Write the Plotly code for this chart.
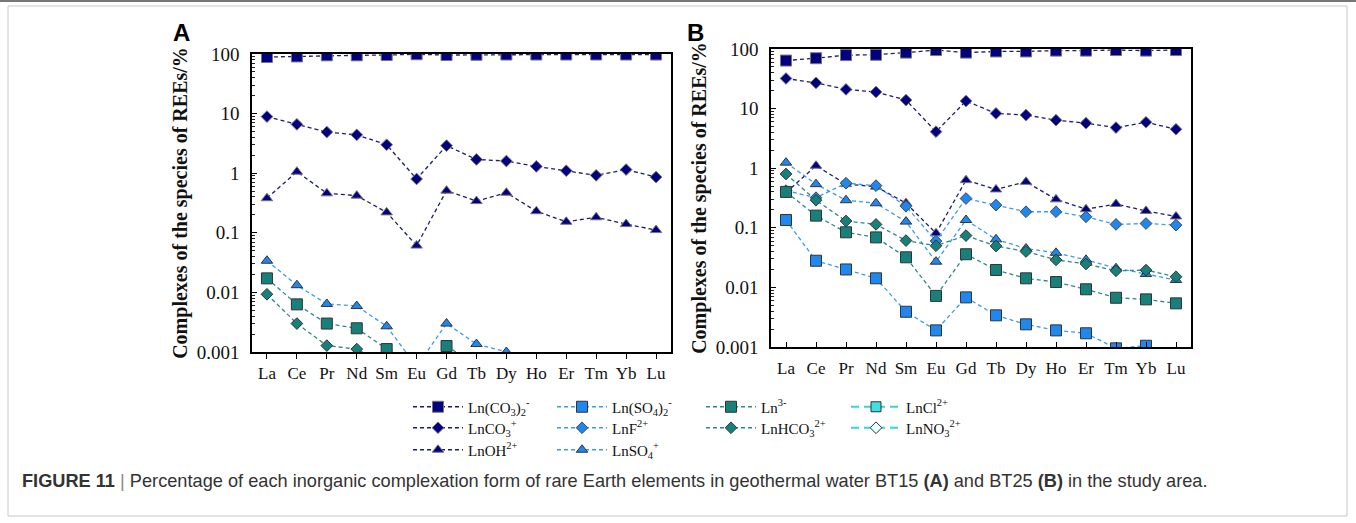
import plotly.graph_objects as go

W, H = 1356, 523

elements = ["La", "Ce", "Pr", "Nd", "Sm", "Eu", "Gd", "Tb", "Dy", "Ho", "Er", "Tm", "Yb", "Lu"]
y_tickvals = [0.001, 0.01, 0.1, 1, 10, 100]
y_ticktext = ["0.001", "0.01", "0.1", "1", "10", "100"]

# ---------------- Panel A : BT15 (percent) ----------------
a_ln_co3_2 = [89, 91, 95, 95, 96, 99, 96, 97, 98, 98, 98, 98, 98, 98]
a_ln_co3 = [8.9, 6.6, 4.9, 4.4, 3.0, 0.80, 2.9, 1.7, 1.6, 1.3, 1.1, 0.92, 1.15, 0.86]
a_ln_oh = [0.38, 1.06, 0.46, 0.42, 0.22, 0.061, 0.51, 0.34, 0.47, 0.23, 0.153, 0.182, 0.14, 0.111]
a_ln_so4_2 = [None] * 14
a_ln_f = [None] * 14
a_ln_so4 = [0.034, 0.0132, 0.0064, 0.0059, 0.0027, 0.00057, 0.0030, 0.00136, 0.0010, 0.0007, 0.0005, 0.0005, 0.0005, 0.0004]
a_ln3 = [0.0172, 0.0063, 0.0030, 0.0025, 0.00112, 0.0002, 0.00126, 0.0006, None, None, None, None, None, None]
a_ln_hco3 = [0.0093, 0.0030, 0.00128, 0.00112, 0.0006, None, None, None, None, None, None, None, None, None]
a_ln_cl = [None] * 14
a_ln_no3 = [None] * 14

# ---------------- Panel B : BT25 (percent) ----------------
b_ln_co3_2 = [64, 70, 79, 80, 87, 96, 87, 91, 91, 94, 94, 96, 94, 96]
b_ln_co3 = [32, 27, 21, 19, 13.9, 4.1, 13.4, 8.3, 7.8, 6.4, 5.7, 4.8, 5.9, 4.5]
b_ln_oh = [0.39, 1.1, 0.54, 0.49, 0.26, 0.081, 0.63, 0.44, 0.59, 0.30, 0.205, 0.251, 0.192, 0.155]
b_ln_so4_2 = [0.135, 0.028, 0.020, 0.0142, 0.0039, 0.0019, 0.0068, 0.0034, 0.0024, 0.0019, 0.0017, 0.00095, 0.00105, 0.0005]
b_ln_f = [0.42, 0.32, 0.56, 0.51, 0.23, 0.06, 0.31, 0.24, 0.186, 0.186, 0.153, 0.114, 0.118, 0.111]
b_ln_so4 = [1.24, 0.54, 0.29, 0.258, 0.127, 0.027, 0.135, 0.064, 0.045, 0.038, 0.029, 0.021, 0.0168, 0.0133]
b_ln3 = [0.40, 0.16, 0.084, 0.069, 0.032, 0.0072, 0.036, 0.0196, 0.0142, 0.0123, 0.0093, 0.0067, 0.0063, 0.0054]
b_ln_hco3 = [0.80, 0.29, 0.13, 0.114, 0.061, 0.050, 0.074, 0.0495, 0.040, 0.029, 0.0247, 0.019, 0.0195, 0.0151]
b_ln_cl = [None] * 14
b_ln_no3 = [None] * 14

NAVY_F, NAVY_L = "#000080", "#1c1c72"
BLUE_F, BLUE_L = "#1e88f0", "#3a9af5"
TEAL_F, TEAL_L = "#16807a", "#2a8a86"
CYAN_F, CYAN_L = "#3fe0e0", "#33d6d6"

series = [
    # name, A data, B data, symbol, fill, line color, outline, legend id, dash, line width, marker size
    ("Ln(CO<sub>3</sub>)<sub>2</sub><sup>-</sup>", a_ln_co3_2, b_ln_co3_2, "square", NAVY_F, NAVY_L, "#777", "legend", "4px,3px", 1.3, 11),
    ("LnCO<sub>3</sub><sup>+</sup>", a_ln_co3, b_ln_co3, "diamond", NAVY_F, NAVY_L, "#777", "legend2", "4px,3px", 1.3, 9),
    ("LnOH<sup>2+</sup>", a_ln_oh, b_ln_oh, "triangle-up", NAVY_F, NAVY_L, "#777", "legend3", "4px,3px", 1.3, 10),
    ("Ln(SO<sub>4</sub>)<sub>2</sub><sup>-</sup>", a_ln_so4_2, b_ln_so4_2, "square", BLUE_F, BLUE_L, "#333", "legend4", "4px,3px", 1.3, 11),
    ("LnF<sup>2+</sup>", a_ln_f, b_ln_f, "diamond", BLUE_F, BLUE_L, "#444", "legend5", "4px,3px", 1.3, 9),
    ("LnSO<sub>4</sub><sup>+</sup>", a_ln_so4, b_ln_so4, "triangle-up", BLUE_F, BLUE_L, "#333", "legend6", "4px,3px", 1.3, 10),
    ("Ln<sup>3-</sup>", a_ln3, b_ln3, "square", TEAL_F, TEAL_L, "#333", "legend7", "4px,3px", 1.3, 11),
    ("LnHCO<sub>3</sub><sup>2+</sup>", a_ln_hco3, b_ln_hco3, "diamond", TEAL_F, TEAL_L, "#333", "legend8", "4px,3px", 1.3, 9),
    ("LnCl<sup>2+</sup>", a_ln_cl, b_ln_cl, "square", CYAN_F, CYAN_L, "#333", "legend9", "8px,5px", 2.2, 10),
    ("LnNO<sub>3</sub><sup>2+</sup>", a_ln_no3, b_ln_no3, "diamond", "#e6ffff", CYAN_L, "#333", "legend10", "8px,5px", 2.2, 9),
]

fig = go.Figure()
for name, ya, yb, sym, fill, lc, oc, lg, dash, lw, ms in series:
    for panel, ys, xa, yax in (("A", ya, "x", "y"), ("B", yb, "x2", "y2")):
        fig.add_trace(go.Scatter(
            x=elements, y=ys, xaxis=xa, yaxis=yax, name=name,
            mode="lines+markers",
            line=dict(color=lc, width=lw, dash=dash),
            marker=dict(symbol=sym, size=ms, color=fill, line=dict(color=oc, width=1)),
            legend=lg, showlegend=(panel == "A"),
            connectgaps=False,
        ))

# legend positions (px): columns / rows
col_x = [408, 552, 701, 846]
row_y = [407, 428, 450]
legend_pos = {
    "legend": (0, 0), "legend2": (0, 1), "legend3": (0, 2),
    "legend4": (1, 0), "legend5": (1, 1), "legend6": (1, 2),
    "legend7": (2, 0), "legend8": (2, 1),
    "legend9": (3, 0), "legend10": (3, 1),
}
legend_layout = {}
for lg, (c, r) in legend_pos.items():
    legend_layout[lg] = dict(
        x=col_x[c] / W, y=1 - row_y[r] / H, xanchor="left", yanchor="middle",
        xref="paper", yref="paper",
        bgcolor="rgba(0,0,0,0)", borderwidth=0, itemwidth=50,
        font=dict(family="Liberation Serif", size=15, color="#111"),
        tracegroupgap=0,
    )

serif = "Liberation Serif"

def yaxis_common(domain):
    return dict(
        type="log", range=[-3, 2], domain=domain,
        tickmode="array", tickvals=y_tickvals, ticktext=y_ticktext,
        ticks="inside", ticklen=5, tickcolor="black",
        minor=dict(ticks="inside", ticklen=3, dtick="D1", tickcolor="#222", showgrid=False),
        showline=True, linecolor="black", linewidth=1.5, mirror=True,
        showgrid=False, zeroline=False, automargin=False,
        tickfont=dict(family=serif, size=19, color="#111"),
        ticklabelstandoff=7,
        title=dict(text="Complexes of the species of REEs/%",
                   font=dict(family=serif, size=20, color="#111", weight="bold"),
                   standoff=4),
    )

def xaxis_common(domain, anchor, ticks, standoff):
    return dict(
        type="category", categoryorder="array", categoryarray=elements,
        range=[-0.5, 13.5], domain=domain, anchor=anchor,
        showline=True, linecolor="black", linewidth=1.5, mirror=True,
        ticks=ticks, ticklen=5, tickcolor="black",
        showgrid=False, zeroline=False, automargin=False,
        tickfont=dict(family=serif, size=17, color="#111"),
        ticklabelstandoff=standoff,
    )

fig.update_layout(
    width=W, height=H, autosize=False,
    margin=dict(l=0, r=0, t=0, b=0, pad=0, autoexpand=False),
    paper_bgcolor="white", plot_bgcolor="white",
    xaxis=xaxis_common([252 / W, 671 / W], "y", "outside", 0),
    yaxis=yaxis_common([1 - 352 / H, 1 - 54 / H]) | dict(anchor="x"),
    xaxis2=xaxis_common([771 / W, 1191 / W], "y2", "inside", 5),
    yaxis2=yaxis_common([1 - 347 / H, 1 - 49 / H]) | dict(anchor="x2"),
    **legend_layout,
    annotations=[
        dict(text="<b>A</b>", x=181 / W, y=1 - 32 / H, xref="paper", yref="paper",
             xanchor="center", yanchor="middle",
             showarrow=False, font=dict(family="Liberation Sans", size=24, color="black")),
        dict(text="<b>B</b>", x=695 / W, y=1 - 32 / H, xref="paper", yref="paper",
             xanchor="center", yanchor="middle",
             showarrow=False, font=dict(family="Liberation Sans", size=24, color="black")),
        dict(text="<b>FIGURE 11</b> <span style='color:#888'>|</span> Percentage of each inorganic complexation form of rare Earth elements in geothermal water BT15 <b>(A)</b> and BT25 <b>(B)</b> in the study area.",
             x=20 / W, y=1 - 481 / H, xref="paper", yref="paper", xanchor="left", yanchor="middle",
             showarrow=False, font=dict(family="Liberation Sans", size=18.2, color="#333")),
    ],
    shapes=[
        dict(type="rect", xref="paper", yref="paper", x0=8 / W, x1=1347 / W, y0=1 - 516 / H, y1=1 - 6 / H,
             line=dict(color="#c8c8c8", width=1), layer="below"),
        dict(type="line", xref="paper", yref="paper", x0=0, x1=1, y0=1 - 1 / H, y1=1 - 1 / H,
             line=dict(color="#777", width=2), layer="below"),
    ],
)

fig.write_html(
    "out.html",
    config={"displayModeBar": False},
    post_script=(
        "document.documentElement.style.margin='0';"
        "document.documentElement.style.overflow='hidden';"
        "document.body.style.margin='0';"
        "document.body.style.overflow='hidden';"
        "var d=document.getElementById('{plot_id}');"
        "d.style.position='fixed';d.style.left='0px';d.style.top='0px';"
    ),
)
